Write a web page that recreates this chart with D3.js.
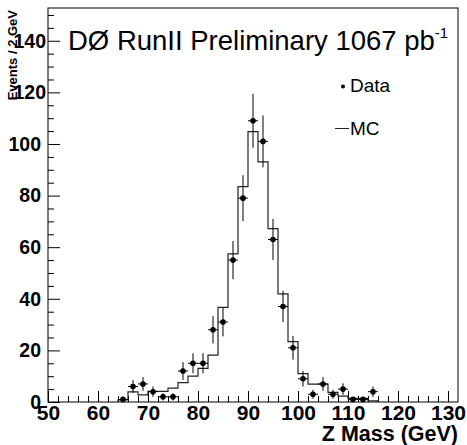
<!DOCTYPE html>
<html>
<head>
<meta charset="utf-8">
<script src="https://cdn.jsdelivr.net/npm/d3@7/dist/d3.min.js"></script>
<style>
    body { margin: 0; background: #fff; }
    text { font-family: "Liberation Sans", Arial, sans-serif; fill: #000; }
</style>
</head>
<body>
<script>

// Data: bin centres, counts (2 GeV bins)
var dataMass = [65, 67, 69, 71, 73, 75, 77, 79, 81, 83, 85, 87, 89, 91, 93, 95, 97, 99, 101, 103, 105, 107, 109, 111, 113, 115];
var dataCount = [1, 6, 7, 4, 2, 2, 12, 15, 15, 28, 31, 55, 79, 109, 101, 63, 37, 21, 9, 3, 7, 3, 5, 1, 1, 4];

// MC histogram: lower bin edges and contents
var mcLow = [64, 66, 68, 70, 72, 74, 76, 78, 80, 82, 84, 86, 88, 90, 92, 94, 96, 98, 100, 102, 104, 106, 108, 110, 112, 114];
var mcValue = [0.8, 3.9, 2.8, 4.1, 4.1, 5.4, 7.5, 10, 13, 18.2, 36.7, 57.4, 83.5, 104.8, 93.1, 67.2, 41.9, 23.4, 11, 6.9, 6.9, 3.7, 2.3, 1.4, 1.4, 0.4];

var xMajor = [50, 60, 70, 80, 90, 100, 110, 120, 130];
var yMajor = [0, 20, 40, 60, 80, 100, 120, 140];

var binWidth = 2;

/*
* view
*/
var width = 467,
    height = 445,
    margin = { top: 8, right: 9, bottom: 43, left: 48 };

var svg = d3.select("body").append("svg")
    .attr("width", width)
    .attr("height", height);

var x = d3.scaleLinear()
    .domain([50, 132])
    .range([margin.left, width - margin.right]);

var y = d3.scaleLinear()
    .domain([0, 152.7])
    .range([height - margin.bottom, margin.top]);

// minor ticks every 2 GeV / 5 events
var xMinor = d3.range(50, 132, 2).filter(function (d) { return d % 10 != 0; });
var yMinor = d3.range(0, 152, 5).filter(function (d) { return d % 20 != 0; });

// x axis
svg.append("g")
    .attr("transform", "translate(0," + y(0) + ")")
    .call(d3.axisBottom(x).tickValues(xMinor).tickSize(-6).tickFormat(""))
    .call(function (g) { g.select(".domain").remove(); });

var gx = svg.append("g")
    .attr("transform", "translate(0," + y(0) + ")")
    .call(d3.axisBottom(x).tickValues(xMajor).tickSize(-11).tickPadding(3).tickFormat(d3.format("d")));
gx.select(".domain").remove();
gx.selectAll("text")
    .style("font-size", "21px")
    .style("font-weight", "bold");

// y axis
svg.append("g")
    .attr("transform", "translate(" + x(50) + ",0)")
    .call(d3.axisLeft(y).tickValues(yMinor).tickSize(-6).tickFormat(""))
    .call(function (g) { g.select(".domain").remove(); });

var gy = svg.append("g")
    .attr("transform", "translate(" + x(50) + ",0)")
    .call(d3.axisLeft(y).tickValues(yMajor).tickSize(-12).tickPadding(6).tickFormat(d3.format("d")));
gy.select(".domain").remove();
gy.selectAll("text")
    .style("font-size", "19.5px")
    .style("font-weight", "bold")
    .attr("x", function (d) { return d >= 120 ? -2 : -7; });

svg.selectAll(".tick line").attr("stroke", "#000");

// frame
svg.append("rect")
    .attr("x", x(50))
    .attr("y", y(152.7))
    .attr("width", x(132) - x(50))
    .attr("height", y(0) - y(152.7))
    .attr("fill", "none")
    .attr("stroke", "#000")
    .attr("stroke-width", 1);

// MC step histogram
var mcPts = [[mcLow[0], 0]];
mcLow.forEach(function (d, i) {
    mcPts.push([d, mcValue[i]]);
    mcPts.push([d + binWidth, mcValue[i]]);
});
mcPts.push([mcLow[mcLow.length - 1] + binWidth, 0]);

svg.append("path")
    .datum(mcPts)
    .attr("fill", "none")
    .attr("stroke", "#222")
    .attr("stroke-width", 1.2)
    .attr("d", d3.line()
        .x(function (d) { return x(d[0]); })
        .y(function (d) { return y(d[1]); }));

// data points with errors
var pts = svg.append("g").selectAll("g")
    .data(dataMass.map(function (m, i) { return { m: m, n: dataCount[i] }; }))
    .enter()
    .append("g");

pts.append("line")
    .attr("x1", function (d) { return x(d.m); })
    .attr("x2", function (d) { return x(d.m); })
    .attr("y1", function (d) { return y(d.n - Math.sqrt(d.n)); })
    .attr("y2", function (d) { return y(d.n + Math.sqrt(d.n)); })
    .attr("stroke", "#000");

pts.append("line")
    .attr("x1", function (d) { return x(d.m - binWidth / 2); })
    .attr("x2", function (d) { return x(d.m + binWidth / 2); })
    .attr("y1", function (d) { return y(d.n); })
    .attr("y2", function (d) { return y(d.n); })
    .attr("stroke", "#000");

pts.append("circle")
    .attr("cx", function (d) { return x(d.m); })
    .attr("cy", function (d) { return y(d.n); })
    .attr("r", 2.8)
    .attr("fill", "#000");

// title
var title = svg.append("text")
    .attr("x", 68)
    .attr("y", 50)
    .style("font-size", "27.5px")
    .text("DØ RunII Preliminary 1067 pb");
title.append("tspan")
    .attr("dy", -12)
    .style("font-size", "15px")
    .text("-1");

// legend
svg.append("circle")
    .attr("cx", 343)
    .attr("cy", 86.5)
    .attr("r", 2)
    .attr("fill", "#000");
svg.append("text")
    .attr("x", 350)
    .attr("y", 92)
    .style("font-size", "19px")
    .text("Data");

svg.append("line")
    .attr("x1", 335)
    .attr("x2", 349)
    .attr("y1", 128.5)
    .attr("y2", 128.5)
    .attr("stroke", "#222");
svg.append("text")
    .attr("x", 350)
    .attr("y", 135)
    .style("font-size", "19px")
    .text("MC");

// axis titles
svg.append("text")
    .attr("transform", "translate(17,10) rotate(-90)")
    .attr("text-anchor", "end")
    .style("font-size", "13px")
    .style("font-weight", "bold")
    .text("Events / 2 GeV");

svg.append("text")
    .attr("x", 458)
    .attr("y", 441)
    .attr("text-anchor", "end")
    .style("font-size", "21.5px")
    .style("font-weight", "bold")
    .text("Z Mass (GeV)");

</script>
</body>
</html>
